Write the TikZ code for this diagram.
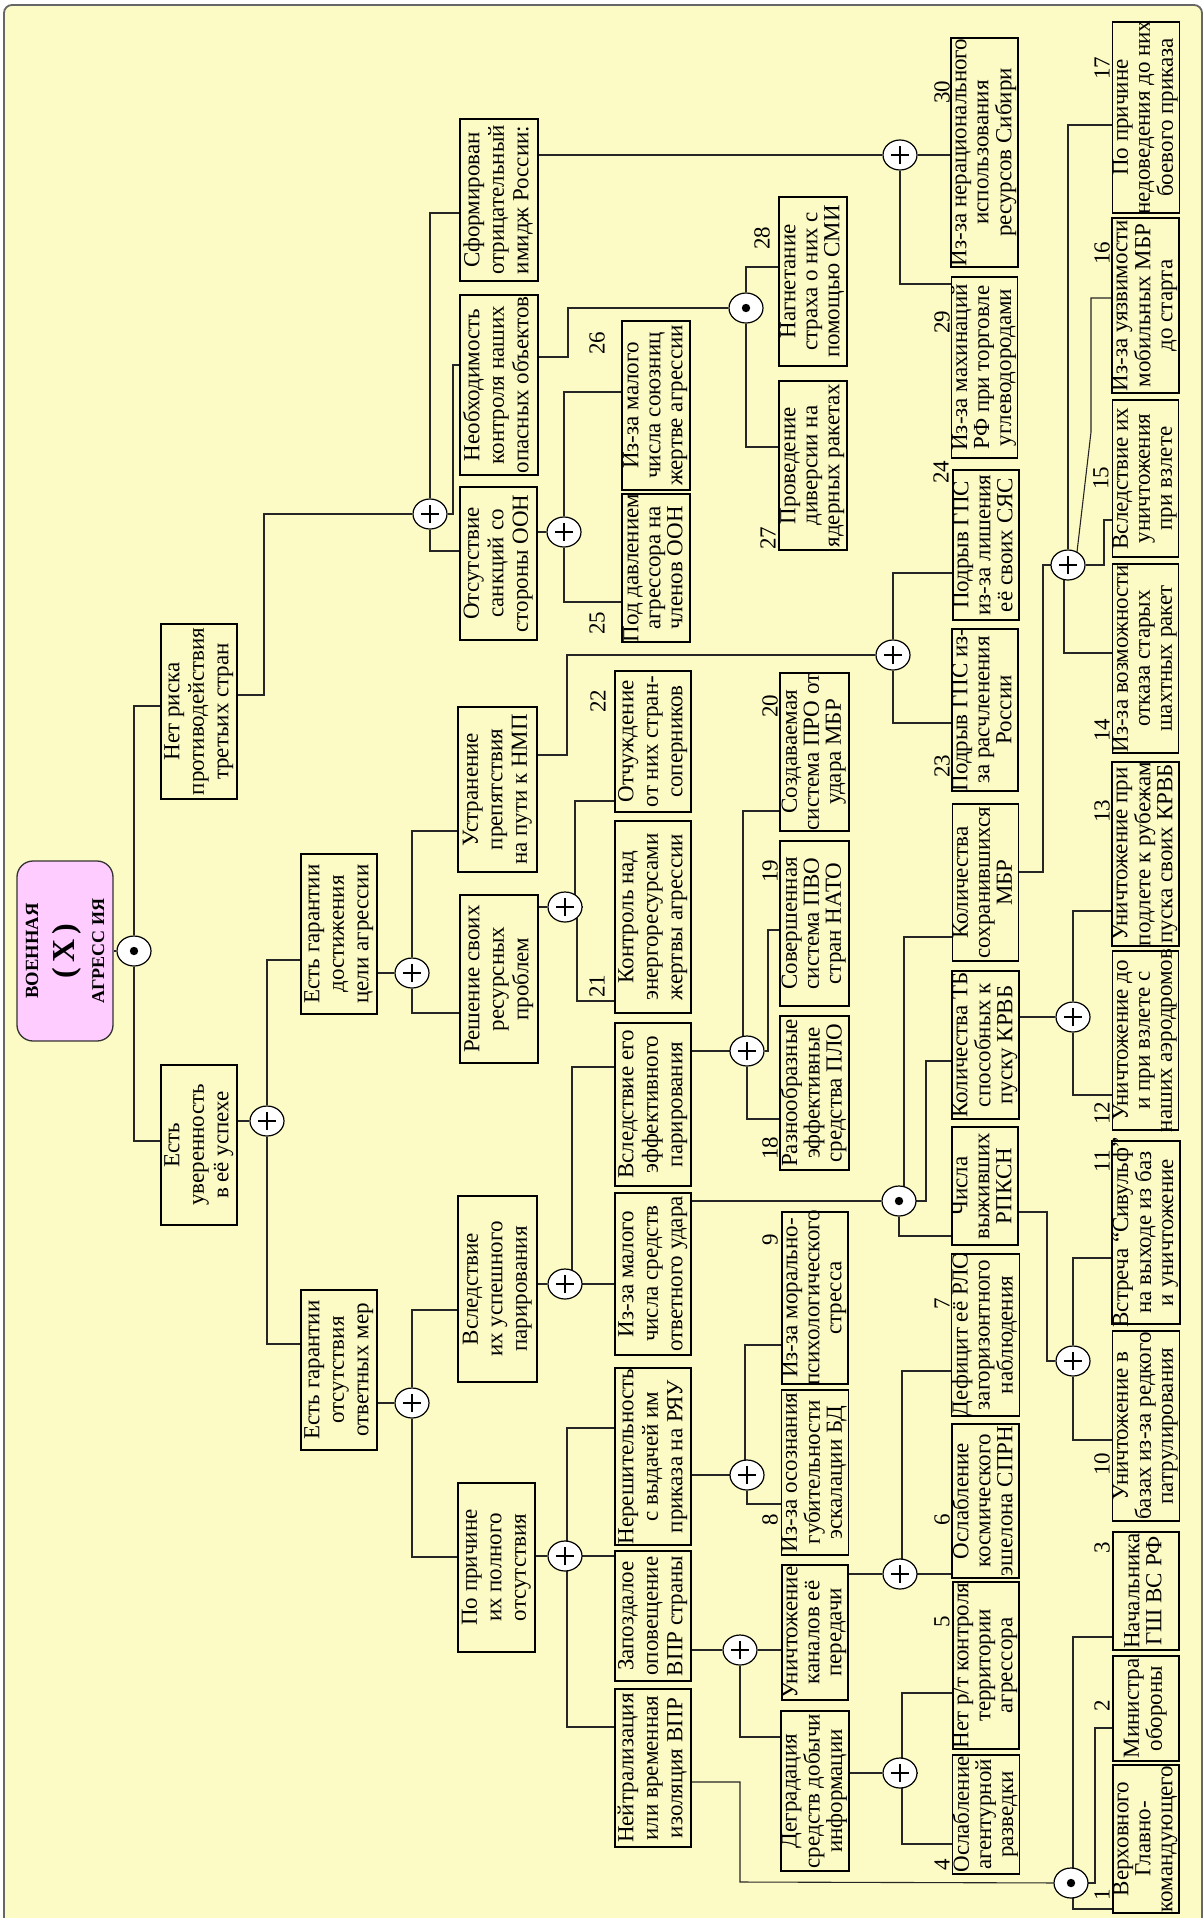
\documentclass[tikz,border=0pt]{standalone}
\usepackage{fontspec}
\setmainfont{Liberation Serif}
\usetikzlibrary{shapes.geometric,calc}
\definecolor{bgc}{RGB}{253,251,197}
\definecolor{pinkc}{RGB}{255,204,255}
\pgfdeclarelayer{bglayer}
\pgfdeclarelayer{lineslayer}
\pgfsetlayers{bglayer,lineslayer,main}
\newcommand\mybox[6]{%
  \pgfmathsetlengthmacro\bxw{0.5pt*(#5-#4)}%
  \pgfmathsetlengthmacro\bxh{0.5pt*(#3-#2)}%
  \pgfmathsetmacro\bxs{(#3-#2)<70 ? 11 : 12.2}%
  \node[box,minimum width=\bxw,minimum height=\bxh] (#1) at ({(#2+#3)/2},{(#4+#5)/2})
    {\makebox[\bxw]{\fontsize{11.5}{\bxs}\selectfont\begin{tabular}{@{}c@{}}#6\end{tabular}}};}
\begin{document}
\begin{tikzpicture}[x=0.5pt,y=-0.5pt,
 box/.style={draw=black,line width=0.7pt,fill=bgc,rotate=90,inner sep=0pt},
 gplus/.style={ellipse,draw=black,line width=0.6pt,fill=white,minimum width=17pt,minimum height=15pt,inner sep=0pt,
   path picture={\draw[black,line width=1.3pt] (path picture bounding box.center) +(-4.6pt,0pt) -- +(4.6pt,0pt) +(0pt,-4.6pt) -- +(0pt,4.6pt);}},
 gdot/.style={ellipse,draw=black,line width=0.6pt,fill=white,minimum width=17pt,minimum height=15pt,inner sep=0pt,
   path picture={\fill[black] (path picture bounding box.center) circle (2.1pt);}},
 lbl/.style={rotate=90,inner sep=0pt,font=\fontsize{11.5}{12}\selectfont},
 conn/.style={line width=0.55pt,draw=black!85},
 rootbox/.style={draw=black!80,line width=0.65pt,fill=pinkc,rounded corners=8pt,rotate=90,inner sep=0pt,minimum width=90pt,minimum height=48pt,align=center}]
\useasboundingbox (0,0) rectangle (1204,1918);
\begin{pgfonlayer}{bglayer}
\fill[white] (0,0) rectangle (1204,1918);
\draw[draw=black!60,line width=0.9pt,fill=bgc,rounded corners=4pt] (4,5) rectangle (1202,1950);
\end{pgfonlayer}

% root
\node[rootbox] (root) at (65,951) {{\bfseries\fontsize{9.3}{10}\selectfont ВОЕННАЯ}\\[6pt]{\bfseries\fontsize{16}{13}\selectfont (\,X\,)}\\[3pt]{\bfseries\fontsize{9}{10}\selectfont АГРЕСС ИЯ}};

% boxes
\mybox{N1}{161}{237}{624}{799}{Нет риска\\противодействия\\третьих стран}
\mybox{N2}{161}{237}{1065}{1225}{Есть\\уверенность\\в её успехе}
\mybox{N3}{301}{377}{854}{1014}{Есть гарантии\\достижения\\цели агрессии}
\mybox{N4}{301}{377}{1290}{1450}{Есть гарантии\\отсутствия\\ответных мер}
\mybox{N5}{460}{538}{119}{281}{Сформирован\\отрицательный\\имидж России:}
\mybox{N6}{460}{538}{295}{475}{Необходимость\\контроля наших\\опасных объектов}
\mybox{N7}{460}{537}{487}{640}{Отсутствие\\санкций со\\стороны ООН}
\mybox{N8}{458}{537}{707}{872}{Устранение\\препятствия\\на пути к НМП}
\mybox{N9}{460}{538}{895}{1063}{Решение своих\\ресурсных\\проблем}
\mybox{N10}{458}{537}{1196}{1382}{Вследствие\\их успешного\\парирования}
\mybox{N11}{458}{535}{1483}{1652}{По причине\\их полного\\отсутствия}
\mybox{B26}{622}{690}{321}{490}{Из-за малого\\числа союзниц\\жертве агрессии}
\mybox{B25}{622}{690}{494}{642}{Под давлением\\агрессора на\\членов ООН}
\mybox{B22}{615}{691}{671}{812}{Отчуждение\\от них стран-\\соперников}
\mybox{B21}{615}{691}{821}{1013}{Контроль над\\энергоресурсами\\жертвы агрессии}
\mybox{N12}{615}{691}{1023}{1186}{Вследствие его\\эффективного\\парирования}
\mybox{N13}{615}{691}{1193}{1355}{Из-за малого\\числа средств\\ответного удара}
\mybox{N17}{615}{691}{1368}{1545}{Нерешительность\\с выдачей им\\приказа на РЯУ}
\mybox{N18}{615}{691}{1551}{1681}{Запоздалое\\оповещение\\ВПР страны}
\mybox{N19}{615}{691}{1689}{1847}{Нейтрализация\\или временная\\изоляция ВПР}
\mybox{B28}{779}{847}{197}{366}{Нагнетание\\страха о них с\\помощью СМИ}
\mybox{B27}{779}{847}{381}{550}{Проведение\\диверсии на\\ядерных ракетах}
\mybox{B20}{780}{849}{673}{831}{Создаваемая\\система ПРО от\\удара МБР}
\mybox{B19}{780}{849}{841}{1006}{Совершенная\\система ПВО\\стран НАТО}
\mybox{B18}{780}{849}{1016}{1170}{Разнообразные\\эффективные\\средства ПЛО}
\mybox{B9}{783}{847}{1212}{1384}{Из-за морально-\\психологического\\стресса}
\mybox{B8}{783}{847}{1390}{1555}{Из-за осознания\\губительности\\эскалации БД}
\mybox{N20}{783}{847}{1565}{1700}{Уничтожение\\каналов её\\передачи}
\mybox{N21}{781}{849}{1711}{1871}{Деградация\\средств добычи\\информации}
\mybox{B30}{952}{1017}{38}{267}{Из-за нерационального\\использования\\ресурсов Сибири}
\mybox{B29}{952}{1017}{277}{458}{Из-за махинаций\\РФ при торговле\\углеводородами}
\mybox{B24}{953}{1019}{470}{620}{Подрыв ГПС\\из-за лишения\\её своих СЯС}
\mybox{B23}{953}{1017}{629}{791}{Подрыв ГПС из-\\за расчленения\\России}
\mybox{N14}{954}{1017}{804}{961}{Количества\\сохранившихся\\МБР}
\mybox{N15}{954}{1017}{971}{1119}{Количества ТБ\\способных к\\пуску КРВБ}
\mybox{N16}{953}{1017}{1127}{1245}{Числа\\выживших\\РПКСН}
\mybox{B7}{954}{1017}{1254}{1416}{Дефицит её РЛС\\загоризонтного\\наблюдения}
\mybox{B6}{954}{1017}{1424}{1578}{Ослабление\\космического\\эшелона СПРН}
\mybox{B5}{953}{1019}{1582}{1749}{Нет р/т контроля\\территории\\агрессора}
\mybox{B4}{953}{1019}{1755}{1874}{Ослабление\\агентурной\\разведки}
\mybox{B17}{1113}{1179}{22}{213}{По причине\\недоведения до них\\боевого приказа}
\mybox{B16}{1113}{1178}{218}{393}{Из-за уязвимости\\мобильных МБР\\до старта}
\mybox{B15}{1113}{1178}{400}{557}{Вследствие их\\уничтожения\\при взлете}
\mybox{B14}{1113}{1178}{564}{753}{Из-за возможности\\отказа старых\\шахтных ракет}
\mybox{B13}{1113}{1178}{762}{946}{Уничтожение при\\подлете к рубежам\\пуска своих КРВБ}
\mybox{B12}{1113}{1178}{951}{1130}{Уничтожение до\\и при взлете с\\наших аэродромов}
\mybox{B11}{1113}{1179}{1141}{1324}{Встреча “Сивульф”\\на выходе из баз\\и уничтожение}
\mybox{B10}{1113}{1179}{1331}{1521}{Уничтожение в\\базах из-за редкого\\патрулирования}
\mybox{B3}{1113}{1179}{1532}{1650}{Начальника\\ГШ ВС РФ}
\mybox{B2}{1113}{1179}{1656}{1761}{Министра\\обороны}
\mybox{B1}{1113}{1179}{1765}{1913}{Верховного\\Главно-\\командующего}

% labels
\node[lbl] (l30) at (942,92) {30};
\node[lbl] (l29) at (942,322) {29};
\node[lbl] (l28) at (762,238) {28};
\node[lbl] (l27) at (768,538) {27};
\node[lbl] (l26) at (597,343) {26};
\node[lbl] (l25) at (597,623) {25};
\node[lbl] (l24) at (941,472) {24};
\node[lbl] (l23) at (942,766) {23};
\node[lbl] (l22) at (598,701) {22};
\node[lbl] (l21) at (597,986) {21};
\node[lbl] (l20) at (770,706) {20};
\node[lbl] (l19) at (770,871) {19};
\node[lbl] (l18) at (770,1148) {18};
\node[lbl] (l17) at (1102,68) {17};
\node[lbl] (l16) at (1102,253) {16};
\node[lbl] (l15) at (1101,478) {15};
\node[lbl] (l14) at (1102,730) {14};
\node[lbl] (l13) at (1102,811) {13};
\node[lbl] (l12) at (1102,1113) {12};
\node[lbl] (l11) at (1102,1161) {11};
\node[lbl] (l10) at (1102,1464) {10};
\node[lbl] (l9) at (770,1240) {9};
\node[lbl] (l8) at (770,1520) {8};
\node[lbl] (l7) at (942,1304) {7};
\node[lbl] (l6) at (942,1520) {6};
\node[lbl] (l5) at (942,1622) {5};
\node[lbl] (l4) at (942,1865) {4};
\node[lbl] (l3) at (1102,1548) {3};
\node[lbl] (l2) at (1102,1706) {2};
\node[lbl] (l1) at (1102,1895) {1};

% gates
\node[gdot] (R0) at (134,951) {};
\node[gplus] (Gu) at (267,1121) {};
\node[gplus] (Gn) at (430,514) {};
\node[gplus] (Gc) at (412,973) {};
\node[gplus] (Go) at (412,1403) {};
\node[gplus] (G25) at (564,532) {};
\node[gdot] (G27) at (746,308) {};
\node[gplus] (G30) at (900,155) {};
\node[gplus] (G21) at (565,907) {};
\node[gplus] (G23) at (893,655) {};
\node[gplus] (Gp) at (565,1284) {};
\node[gplus] (G18) at (747,1051) {};
\node[gdot] (Gm) at (899,1201) {};
\node[gplus] (G14) at (1068,565) {};
\node[gplus] (G12) at (1073,1017) {};
\node[gplus] (G10) at (1073,1361) {};
\node[gplus] (Ga) at (565,1556) {};
\node[gplus] (G8) at (747,1475) {};
\node[gplus] (Gv) at (740,1650) {};
\node[gplus] (G6) at (900,1574) {};
\node[gplus] (G4) at (900,1773) {};
\node[gdot] (G1) at (1071,1883) {};

\begin{pgfonlayer}{lineslayer}
\draw[conn] (root) -- (R0);
\draw[conn] (R0) -- (R0 |- 0,706) -- (N1 |- 0,706);
\draw[conn] (R0) -- (R0 |- 0,1141) -- (N2 |- 0,1141);
\draw[conn] (N2 |- Gu) -- (Gu);
\draw[conn] (Gu) -- (Gu |- 0,960) -- (N3 |- 0,960);
\draw[conn] (Gu) -- (Gu |- 0,1344) -- (N4 |- 0,1344);
\draw[conn] (N3 |- Gc) -- (Gc);
\draw[conn] (N4 |- Go) -- (Go);
\draw[conn] (N1 |- 0,695) -- (264,695) -- (264,514) -- (Gn);
\draw[conn] (Gn) -- (Gn |- 0,213) -- (N5 |- 0,213);
\draw[conn] (Gn) -- (453,514) -- (453,365) -- (N6 |- 0,365);
\draw[conn] (Gn) -- (Gn |- 0,551) -- (N7 |- 0,551);
\draw[conn] (N5 |- G30) -- (G30);
\draw[conn] (G30) -- (B30 |- G30);
\draw[conn] (G30) -- (G30 |- 0,284) -- (B29 |- 0,284);
\draw[conn] (N6 |- 0,357) -- (568,357) -- (568,308) -- (G27);
\draw[conn] (G27) -- (G27 |- 0,267) -- (B28 |- 0,267);
\draw[conn] (G27) -- (G27 |- 0,447) -- (B27 |- 0,447);
\draw[conn] (N7 |- G25) -- (G25);
\draw[conn] (G25) -- (G25 |- 0,392) -- (B26 |- 0,392);
\draw[conn] (G25) -- (G25 |- 0,602) -- (B25 |- 0,602);
\draw[conn] (Gc) -- (Gc |- 0,831) -- (N8 |- 0,831);
\draw[conn] (Gc) -- (Gc |- 0,1013) -- (N9 |- 0,1013);
\draw[conn] (N8 |- 0,755) -- (567,755) -- (567,655) -- (G23);
\draw[conn] (G23) -- (G23 |- 0,573) -- (B24 |- 0,573);
\draw[conn] (G23) -- (G23 |- 0,723) -- (B23 |- 0,723);
\draw[conn] (N9 |- G21) -- (G21);
\draw[conn] (G21) -- (575,907) -- (575,801) -- (B22 |- 0,801);
\draw[conn] (G21) -- (577,907) -- (577,1001) -- (B21 |- 0,1001);
\draw[conn] (Go) -- (Go |- 0,1310) -- (N10 |- 0,1310);
\draw[conn] (Go) -- (Go |- 0,1557) -- (N11 |- 0,1557);
\draw[conn] (N10 |- Gp) -- (Gp);
\draw[conn] (Gp) -- (572,1284) -- (572,1067) -- (N12 |- 0,1067);
\draw[conn] (Gp) -- (N13 |- Gp);
\draw[conn] (N12 |- G18) -- (G18);
\draw[conn] (G18) -- (743,1051) -- (743,811) -- (B20 |- 0,811);
\draw[conn] (G18) -- (768,1051) -- (768,930) -- (B19 |- 0,930);
\draw[conn] (G18) -- (G18 |- 0,1119) -- (B18 |- 0,1119);
\draw[conn] (N13 |- Gm) -- (Gm);
\draw[conn] (Gm) -- (904,1201) -- (904,937) -- (N14 |- 0,937);
\draw[conn] (Gm) -- (926,1201) -- (926,1061) -- (N15 |- 0,1061);
\draw[conn] (Gm) -- (Gm |- 0,1236) -- (N16 |- 0,1236);
\draw[conn] (N14 |- 0,872) -- (1043,872) -- (1043,565) -- (G14);
\draw[conn] (G14) -- (G14 |- 0,125) -- (B17 |- 0,125);
\draw[conn] (G14) -- (1077,552) -- (1091,432) -- (1091,298) -- (B16 |- 0,298);
\draw[conn] (G14) -- (1104,565) -- (1104,520) -- (B15 |- 0,520);
\draw[conn] (G14) -- (1064,565) -- (1064,653) -- (B14 |- 0,653);
\draw[conn] (N15 |- G12) -- (G12);
\draw[conn] (G12) -- (G12 |- 0,911) -- (B13 |- 0,911);
\draw[conn] (G12) -- (G12 |- 0,1095) -- (B12 |- 0,1095);
\draw[conn] (N16 |- 0,1212) -- (1047,1212) -- (1047,1361) -- (G10);
\draw[conn] (G10) -- (G10 |- 0,1258) -- (B11 |- 0,1258);
\draw[conn] (G10) -- (G10 |- 0,1440) -- (B10 |- 0,1440);
\draw[conn] (N11 |- Ga) -- (Ga);
\draw[conn] (Ga) -- (567,1556) -- (567,1428) -- (N17 |- 0,1428);
\draw[conn] (Ga) -- (N18 |- Ga);
\draw[conn] (Ga) -- (567,1556) -- (567,1727) -- (N19 |- 0,1727);
\draw[conn] (N17 |- G8) -- (G8);
\draw[conn] (G8) -- (745,1475) -- (745,1345) -- (B9 |- 0,1345);
\draw[conn] (G8) -- (G8 |- 0,1504) -- (B8 |- 0,1504);
\draw[conn] (N18 |- Gv) -- (Gv);
\draw[conn] (Gv) -- (N20 |- Gv);
\draw[conn] (Gv) -- (Gv |- 0,1737) -- (N21 |- 0,1737);
\draw[conn] (N20 |- G6) -- (G6);
\draw[conn] (G6) -- (902,1574) -- (902,1371) -- (B7 |- 0,1371);
\draw[conn] (G6) -- (B6 |- G6);
\draw[conn] (N21 |- G4) -- (G4);
\draw[conn] (G4) -- (902,1773) -- (902,1693) -- (B5 |- 0,1693);
\draw[conn] (G4) -- (902,1773) -- (902,1844) -- (B4 |- 0,1844);
\draw[conn] (N19 |- 0,1782) -- (740,1782) -- (740,1882) -- (G1);
\draw[conn] (G1) -- (1073,1883) -- (1073,1637) -- (B3 |- 0,1637);
\draw[conn] (G1) -- (1095,1883) -- (1095,1728) -- (B2 |- 0,1728);
\draw[conn] (G1) -- (1073,1883) -- (1073,1909) -- (B1 |- 0,1909);
\end{pgfonlayer}
\end{tikzpicture}
\end{document}
